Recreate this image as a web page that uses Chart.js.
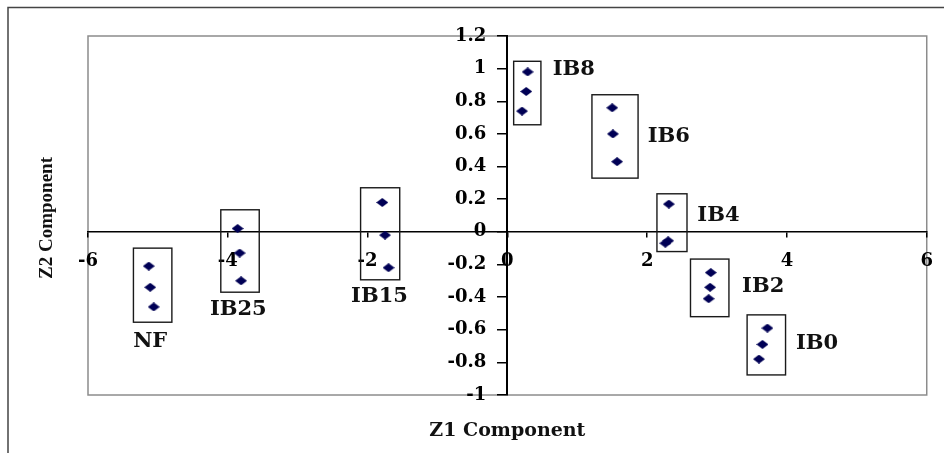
<!DOCTYPE html>
<html>
<head>
<meta charset="utf-8">
<script src="https://cdn.jsdelivr.net/npm/chart.js@4"></script>
<style>
  html, body { margin: 0; padding: 0; background: #fff; overflow: hidden; }
  #wrap { width: 944px; height: 453px; }
</style>
</head>
<body>
<div id="wrap"><canvas id="chart"></canvas></div>
<script>
// groups of samples, three replicates each
const groups = ["NF", "IB25", "IB15", "IB8", "IB6", "IB4", "IB2", "IB0"];
const z1Values = [
  [-5.13, -5.11, -5.06],
  [-3.86, -3.83, -3.81],
  [-1.79, -1.75, -1.70],
  [0.29, 0.27, 0.21],
  [1.50, 1.51, 1.57],
  [2.31, 2.30, 2.26],
  [2.91, 2.90, 2.88],
  [3.72, 3.65, 3.60]
];
const z2Values = [
  [-0.21, -0.34, -0.46],
  [0.02, -0.13, -0.30],
  [0.18, -0.02, -0.22],
  [0.98, 0.86, 0.74],
  [0.76, 0.60, 0.43],
  [0.17, -0.055, -0.07],
  [-0.25, -0.34, -0.41],
  [-0.59, -0.69, -0.78]
];
// frame drawn round each group (Z1 from/to, Z2 top/bottom)
const boxZ1From = [-5.35, -4.10, -2.10, 0.09, 1.21, 2.14, 2.62, 3.43];
const boxZ1To = [-4.80, -3.55, -1.54, 0.48, 1.87, 2.57, 3.17, 3.98];
const boxZ2Top = [-0.10, 0.135, 0.27, 1.045, 0.84, 0.233, -0.167, -0.509];
const boxZ2Bottom = [-0.554, -0.37, -0.294, 0.656, 0.329, -0.121, -0.52, -0.877];
// where each group name sits
const labelZ1 = [-5.11, -3.85, -1.83, 0.95, 2.31, 3.02, 3.66, 4.43];
const labelZ2 = [-0.673, -0.474, -0.397, 0.994, 0.585, 0.098, -0.335, -0.683];

const xTicks = [-6, -4, -2, 0, 2, 4, 6];
const yTicks = [1.2, 1, 0.8, 0.6, 0.4, 0.2, 0, -0.2, -0.4, -0.6, -0.8, -1];

const serif = "'DejaVu Serif', 'Liberation Serif', serif";

function diamond(w, h, color) {
    const c = document.createElement("canvas");
    c.width = w;
    c.height = h;
    const g = c.getContext("2d");
    g.fillStyle = color;
    g.beginPath();
    g.moveTo(w / 2, 0);
    g.lineTo(w, h / 2);
    g.lineTo(w / 2, h);
    g.lineTo(0, h / 2);
    g.closePath();
    g.fill();
    return c;
}
const marker = diamond(12, 9, "#000055");

const datasets = groups.map((name, i) => ({
    label: name,
    data: z1Values[i].map((x, j) => ({ x: x, y: z2Values[i][j] })),
    pointStyle: marker,
    pointRadius: 5,
    showLine: false
}));

const decorations = {
    id: "decorations",
    beforeDraw(chart) {
        const { ctx, chartArea: a } = chart;
        ctx.save();
        ctx.fillStyle = "#fff";
        ctx.fillRect(0, 0, chart.width, chart.height);
        ctx.strokeStyle = "#444";
        ctx.lineWidth = 1.5;
        ctx.strokeRect(8, 7.5, chart.width + 20, chart.height + 20);
        ctx.strokeStyle = "#8c8c8c";
        ctx.strokeRect(a.left, a.top, a.right - a.left, a.bottom - a.top);
        ctx.restore();
    },
    afterDraw(chart) {
        const { ctx, chartArea: a } = chart;
        const xs = chart.scales.x, ys = chart.scales.y;
        ctx.save();
        // frames round the groups
        ctx.strokeStyle = "#1a1a1a";
        ctx.lineWidth = 1.4;
        groups.forEach((g, i) => {
            const l = xs.getPixelForValue(boxZ1From[i]);
            const r = xs.getPixelForValue(boxZ1To[i]);
            const t = ys.getPixelForValue(boxZ2Top[i]);
            const b = ys.getPixelForValue(boxZ2Bottom[i]);
            ctx.strokeRect(l, t, r - l, b - t);
        });
        // group names
        ctx.fillStyle = "#111";
        ctx.font = "bold 21px " + serif;
        ctx.textAlign = "center";
        ctx.textBaseline = "middle";
        groups.forEach((g, i) => {
            ctx.fillText(g, xs.getPixelForValue(labelZ1[i]), ys.getPixelForValue(labelZ2[i]));
        });
        // axis titles
        ctx.font = "bold 19px " + serif;
        ctx.fillText("Z1 Component", (a.left + a.right) / 2, a.bottom + 36);
        ctx.translate(a.left - 41, a.top + 182);
        ctx.rotate(-Math.PI / 2);
        ctx.font = "bold 19px 'Liberation Serif', serif";
        ctx.fillText("Z2 Component", 0, 0);
        ctx.restore();
    }
};

const tickFont = { family: serif, size: 18, weight: "bold" };

new Chart(document.getElementById("chart"), {
    type: "scatter",
    data: { datasets: datasets },
    options: {
        responsive: true,
        maintainAspectRatio: false,
        animation: false,
        layout: { padding: { left: 88, top: 36, right: 13, bottom: 58 } },
        plugins: {
            legend: { display: false },
            tooltip: { enabled: false }
        },
        scales: {
            x: {
                type: "linear",
                position: { y: 0 },
                min: -6,
                max: 6,
                afterBuildTicks: axis => { axis.ticks = xTicks.map(v => ({ value: v })); },
                ticks: {
                    callback: v => String(v),
                    // tall line height pushes the labels down without widening the side padding
                    font: { family: serif, size: 18, weight: "bold", lineHeight: 1.55 },
                    color: "#000",
                    padding: 11,
                    maxRotation: 0,
                    autoSkip: false
                },
                grid: { drawOnChartArea: false, tickLength: 5, color: "#000", lineWidth: 1.5 },
                border: { color: "#000", width: 1.5 }
            },
            y: {
                type: "linear",
                // x runs -6..6, so the centre of the plot is Z1 = 0
                position: "center",
                min: -1,
                max: 1.2,
                afterBuildTicks: axis => { axis.ticks = yTicks.map(v => ({ value: v })); },
                ticks: {
                    callback: v => String(v),
                    font: tickFont,
                    color: "#000",
                    padding: 12,
                    autoSkip: false
                },
                grid: { drawOnChartArea: false, tickLength: 9, color: "#000", lineWidth: 1.5 },
                border: { color: "#000", width: 2 }
            }
        }
    },
    plugins: [decorations]
});
</script>
</body>
</html>
